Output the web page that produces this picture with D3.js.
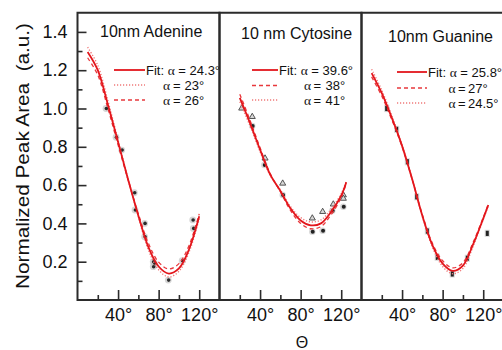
<!DOCTYPE html>
<html>
<head>
<meta charset="utf-8">
<script src="https://cdn.jsdelivr.net/npm/d3@7"></script>
<style>
  html, body { margin: 0; padding: 0; background: #fff; }
  svg { display: block; font-family: "Liberation Sans", Arial, sans-serif; }
</style>
</head>
<body>
<svg id="chart" width="502" height="350"></svg>
<script>
// ---------------- data ----------------
const panelTitles = ["10nm Adenine", "10 nm Cytosine", "10nm Guanine"];
const fitAlphaLabels = ["24.3°", "39.6°", "25.8°"];
const alt1Labels = ["23°", "38°", "27°"];     // second legend row
const alt2Labels = ["26°", "41°", "24.5°"];   // third legend row
const xTickMajor = [40, 80, 120];
const xTickMinor = [20, 60, 100];
const yTickMajor = [0.2, 0.4, 0.6, 0.8, 1.0, 1.2, 1.4];
const yTickMinor = [0.1, 0.3, 0.5, 0.7, 0.9, 1.1, 1.3];

// Adenine
const adenineTheta = [10, 20, 30, 40, 50, 60, 70, 80, 90, 100, 110, 120];
const adenineFit   = [1.295, 1.20, 1.02, 0.825, 0.627, 0.44, 0.275, 0.175, 0.138, 0.165, 0.265, 0.437];
const adenineA23   = [1.32, 1.225, 1.04, 0.835, 0.63, 0.435, 0.26, 0.158, 0.12, 0.15, 0.25, 0.425];
const adenineA26   = [1.265, 1.175, 1.0, 0.81, 0.625, 0.45, 0.295, 0.198, 0.162, 0.19, 0.285, 0.45];
const adenineDataTheta = [28.1, 38.0, 43.6, 56.0, 56.7, 66.2, 66.2, 74.7, 74.7, 76.0, 89.5, 103.2, 113.6, 114.2];
const adenineDataVal   = [1.0, 0.85, 0.783, 0.56, 0.47, 0.40, 0.33, 0.20, 0.174, 0.19, 0.104, 0.205, 0.418, 0.374];

// Cytosine
const cytosineTheta = [20, 30, 40, 50, 60, 70, 80, 90, 100, 110, 120, 125];
const cytosineFit   = [1.055, 0.925, 0.785, 0.655, 0.57, 0.478, 0.415, 0.39, 0.40, 0.46, 0.545, 0.615];
const cytosineA38   = [1.075, 0.94, 0.795, 0.66, 0.565, 0.468, 0.40, 0.372, 0.383, 0.445, 0.535, 0.61];
const cytosineA41   = [1.035, 0.91, 0.775, 0.65, 0.575, 0.488, 0.43, 0.408, 0.418, 0.475, 0.555, 0.62];
const cytosineTriTheta = [21.9, 32.3, 44.9, 62.3, 91.5, 101.7, 112.2, 122.1, 122.1];
const cytosineTriVal   = [1.001, 0.957, 0.74, 0.609, 0.427, 0.461, 0.50, 0.548, 0.53];
const cytosineDotTheta = [32.3, 44.2, 62.3, 91.5, 101.7, 111.2, 122.1];
const cytosineDotVal   = [0.909, 0.705, 0.548, 0.357, 0.362, 0.466, 0.487];

// Guanine
const guanineTheta = [10, 20, 30, 40, 50, 60, 70, 80, 90, 100, 110, 120, 125];
const guanineFit   = [1.185, 1.08, 0.95, 0.805, 0.63, 0.44, 0.285, 0.19, 0.152, 0.18, 0.29, 0.425, 0.496];
const guanineA27   = [1.165, 1.065, 0.94, 0.80, 0.63, 0.445, 0.295, 0.205, 0.168, 0.195, 0.30, 0.43, 0.50];
const guanineA245  = [1.205, 1.095, 0.96, 0.81, 0.63, 0.435, 0.275, 0.175, 0.137, 0.165, 0.28, 0.42, 0.492];
const guanineDataTheta = [24.8, 34.7, 45.2, 54.4, 64.9, 74.7, 89.5, 104.3, 124.0];
const guanineDataVal   = [1.0, 0.891, 0.722, 0.539, 0.36, 0.223, 0.136, 0.218, 0.348];

// ---------------- layout ----------------
const svg = d3.select("#chart");
svg.append("rect").attr("width", 502).attr("height", 350).attr("fill", "#fff");

const plotTop = 12.75, plotBottom = 300, panelW = 142;
const lefts = [77.5, 219.5, 361.5];
const y = d3.scaleLinear().domain([0, 1.5]).range([plotBottom, plotTop]);

const RED = "#e3161c";
const styles = {
  solid:  { stroke: RED, width: 1.8, dash: null },
  dashed: { stroke: "#e8383c", width: 1.3, dash: "4,3" },
  dotted: { stroke: "#f07a7a", width: 1.4, dash: "1.2,1.8" }
};

const panels = [
  { theta: adenineTheta, fit: adenineFit, alts: [[adenineA23, "dotted"], [adenineA26, "dashed"]],
    titleY: 36.5, titleX: 100,
    legend: { x0: 114, x1: 145, rows: [70, 85, 100], ax: 163, ex: 173, nx: 184.5 } },
  { theta: cytosineTheta, fit: cytosineFit, alts: [[cytosineA38, "dashed"], [cytosineA41, "dotted"]],
    titleY: 38.5, titleX: 241,
    legend: { x0: 252, x1: 278, rows: [70, 85.5, 100], ax: 304, ex: 313.5, nx: 325.5 } },
  { theta: guanineTheta, fit: guanineFit, alts: [[guanineA27, "dashed"], [guanineA245, "dotted"]],
    titleY: 41.5, titleX: 388,
    legend: { x0: 397, x1: 427, rows: [72, 88, 103], ax: 448.5, ex: 458, nx: 468 } }
];

const clipId = i => "clip" + i;
panels.forEach((p, i) => {
  const x = d3.scaleLinear().domain([0, 140]).range([lefts[i], lefts[i] + panelW]);
  svg.append("clipPath").attr("id", clipId(i))
    .append("rect").attr("x", lefts[i]).attr("y", plotTop).attr("width", panelW).attr("height", plotBottom - plotTop);
  const g = svg.append("g");
  const pg = g.append("g").attr("clip-path", `url(#${clipId(i)})`);

  const line = d3.line().x(d => x(d[0])).y(d => y(d[1])).curve(d3.curveCatmullRom.alpha(0.5));

  // data markers
  if (i === 0) {
    const pts = adenineDataTheta.map((t, k) => [t, adenineDataVal[k]]);
    pg.selectAll("circle.halo").data(pts).join("circle").attr("class", "halo")
      .attr("cx", d => x(d[0])).attr("cy", d => y(d[1])).attr("r", 3.4)
      .attr("fill", "#c4c4c4").attr("opacity", 0.7);
    pg.selectAll("circle.pt").data(pts).join("circle").attr("class", "pt")
      .attr("cx", d => x(d[0]) + 0.4).attr("cy", d => y(d[1])).attr("r", 1.8)
      .attr("fill", "#2a2a2a");
  } else if (i === 1) {
    const tri = cytosineTriTheta.map((t, k) => [t, cytosineTriVal[k]]);
    const dots = cytosineDotTheta.map((t, k) => [t, cytosineDotVal[k]]);
    pg.selectAll("circle.halo").data(dots).join("circle").attr("class", "halo")
      .attr("cx", d => x(d[0])).attr("cy", d => y(d[1])).attr("r", 3.2)
      .attr("fill", "#c4c4c4").attr("opacity", 0.7);
    pg.selectAll("circle.pt").data(dots).join("circle").attr("class", "pt")
      .attr("cx", d => x(d[0]) + 0.4).attr("cy", d => y(d[1])).attr("r", 2)
      .attr("fill", "#222");
    pg.selectAll("path.tri").data(tri).join("path").attr("class", "tri")
      .attr("d", d3.symbol(d3.symbolTriangle, 16))
      .attr("transform", d => `translate(${x(d[0])},${y(d[1])})`)
      .attr("fill", "#d8d8d8").attr("stroke", "#444").attr("stroke-width", 0.9);
  } else {
    const pts = guanineDataTheta.map((t, k) => [t, guanineDataVal[k]]);
    pg.selectAll("rect.halo").data(pts).join("rect").attr("class", "halo")
      .attr("x", d => x(d[0]) - 2.6).attr("y", d => y(d[1]) - 3.6)
      .attr("width", 5.2).attr("height", 7.2).attr("fill", "#c8c8c8").attr("opacity", 0.6);
    pg.selectAll("rect.pt").data(pts).join("rect").attr("class", "pt")
      .attr("x", d => x(d[0]) - 1.5).attr("y", d => y(d[1]) - 2.6)
      .attr("width", 3).attr("height", 5.2).attr("fill", "#222");
  }

  // alternative alpha curves
  p.alts.forEach(([vals, st]) => {
    const s = styles[st];
    pg.append("path").datum(p.theta.map((t, k) => [t, vals[k]]))
      .attr("d", line).attr("fill", "none").attr("stroke", s.stroke)
      .attr("stroke-width", s.width).attr("stroke-dasharray", s.dash);
  });
  // fit curve
  pg.append("path").datum(p.theta.map((t, k) => [t, p.fit[k]]))
    .attr("d", line).attr("fill", "none").attr("stroke", styles.solid.stroke)
    .attr("stroke-width", styles.solid.width);

  // x axis ticks (inward)
  const axMajor = d3.axisBottom(x).tickValues(xTickMajor).tickSize(-10).tickPadding(8)
    .tickFormat(d => d + "°");
  const axMinor = d3.axisBottom(x).tickValues(xTickMinor).tickSize(-5).tickFormat("");
  const gx = g.append("g").attr("transform", `translate(0,${plotBottom})`).call(axMajor);
  const gxm = g.append("g").attr("transform", `translate(0,${plotBottom})`).call(axMinor);
  [gx, gxm].forEach(a => {
    a.select(".domain").remove();
    a.selectAll("line").attr("stroke", "#2b2b2b").attr("stroke-width", 1.6);
  });
  gx.selectAll("text").attr("font-size", 18).attr("fill", "#111")
    .attr("font-family", "'Liberation Sans', Arial, sans-serif");

  // y axis on first panel
  if (i === 0) {
    const ayMajor = d3.axisLeft(y).tickValues(yTickMajor).tickSize(-9).tickPadding(10)
      .tickFormat(d3.format(".1f"));
    const ayMinor = d3.axisLeft(y).tickValues(yTickMinor).tickSize(-5).tickFormat("");
    const gy = g.append("g").attr("transform", `translate(${lefts[0]},0)`).call(ayMajor);
    const gym = g.append("g").attr("transform", `translate(${lefts[0]},0)`).call(ayMinor);
    [gy, gym].forEach(a => {
      a.select(".domain").remove();
      a.selectAll("line").attr("stroke", "#2b2b2b").attr("stroke-width", 1.6);
    });
    gy.selectAll("text").attr("font-size", 18).attr("fill", "#111")
      .attr("font-family", "'Liberation Sans', Arial, sans-serif");
  }

  // frame
  g.append("rect").attr("x", lefts[i]).attr("y", plotTop).attr("width", panelW).attr("height", plotBottom - plotTop)
    .attr("fill", "none").attr("stroke", "#2b2b2b").attr("stroke-width", 2);

  // title
  g.append("text").attr("x", p.titleX).attr("y", p.titleY).attr("font-size", 16)
    .attr("fill", "#111").text(panelTitles[i]);

  // legend
  const L = p.legend;
  const rowStyles = ["solid", p.alts[0][1], p.alts[1][1]];
  rowStyles.forEach((st, r) => {
    const s = styles[st];
    g.append("line").attr("x1", L.x0).attr("x2", L.x1).attr("y1", L.rows[r]).attr("y2", L.rows[r])
      .attr("stroke", s.stroke).attr("stroke-width", st === "solid" ? 1.8 : 1.4)
      .attr("stroke-dasharray", s.dash);
  });
  const t0 = g.append("text").attr("x", L.x1 + 1).attr("y", L.rows[0] + 4.5)
    .attr("font-size", 13).attr("fill", "#111");
  t0.append("tspan").text("Fit: ");
  t0.append("tspan").attr("font-family", "'Liberation Serif', 'Times New Roman', serif").attr("font-size", 13.5).text("α");
  t0.append("tspan").text(" = " + fitAlphaLabels[i]);
  [alt1Labels[i], alt2Labels[i]].forEach((lab, r) => {
    const t = g.append("text").attr("y", L.rows[r + 1] + 4.5).attr("font-size", 13).attr("fill", "#111");
    t.append("tspan").attr("x", L.ax)
      .attr("font-family", "'Liberation Serif', 'Times New Roman', serif").attr("font-size", 13.5).text("α");
    t.append("tspan").attr("x", L.ex).text("=");
    t.append("tspan").attr("x", L.nx).text(lab);
  });
});

// axis titles
svg.append("text")
  .attr("transform", "translate(29,156) rotate(-90)")
  .attr("text-anchor", "middle").attr("font-size", 18.5).attr("fill", "#111")
  .attr("textLength", 266).attr("lengthAdjust", "spacingAndGlyphs")
  .attr("xml:space", "preserve")
  .text("Normalized Peak Area  (a.u.)");
svg.append("text").attr("x", 302).attr("y", 348).attr("text-anchor", "middle")
  .attr("font-size", 16).attr("fill", "#111").text("Θ");
</script>
</body>
</html>
